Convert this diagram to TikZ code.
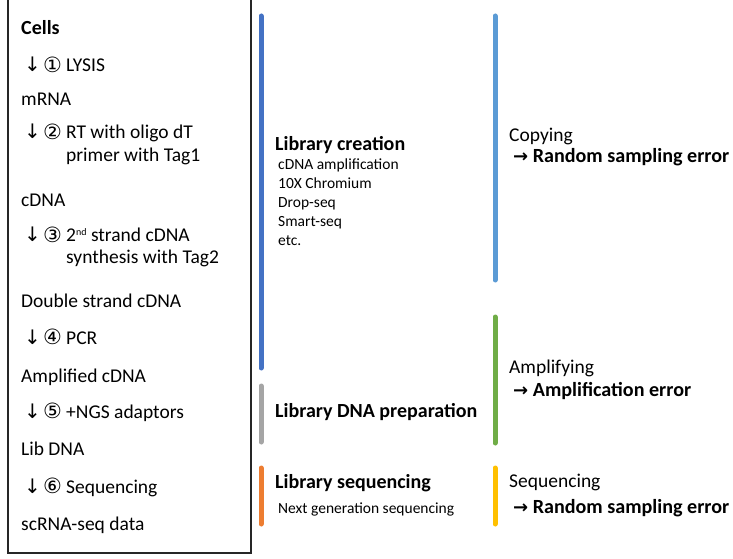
\documentclass[tikz,border=0pt]{standalone}
\usepackage{fontspec}
\setmainfont{Carlito}
\newfontfamily\symfont{DejaVu Sans}
\definecolor{barblue}{HTML}{4472C4}
\definecolor{barlightblue}{HTML}{5B9BD5}
\definecolor{bargray}{HTML}{A5A5A5}
\definecolor{barorange}{HTML}{ED7D31}
\definecolor{bargreen}{HTML}{70AD47}
\definecolor{baryellow}{HTML}{FFC000}
% down arrow and circled step number in front of a step label
\newcommand{\stepmark}[1]{\makebox[19bp][l]{\symfont\fontsize{20bp}{20bp}\selectfont ↓}\makebox[23bp][l]{\raisebox{-0.5bp}{\symfont\fontsize{21bp}{20bp}\selectfont #1}}}
\newcommand{\rarrow}{{\symfont\bfseries\fontsize{18bp}{18bp}\selectfont →}\ }
\newcommand{\supnd}[1]{\raisebox{6.5bp}{\fontsize{10bp}{10bp}\selectfont #1}}
\begin{document}
\begin{tikzpicture}[x=1bp,y=-1bp,
  every node/.style={inner sep=0pt, anchor=base west},
  main/.style={font=\fontsize{19.5bp}{22bp}\selectfont},
  small/.style={font=\fontsize{15.5bp}{18bp}\selectfont},
  head/.style={font=\fontsize{20bp}{22bp}\selectfont\bfseries},
  errtext/.style={font=\fontsize{20.1bp}{22bp}\selectfont\bfseries},
  bar/.style={line width=5bp, line cap=round}]
\useasboundingbox (0,0) rectangle (733,559);

% workflow box
\draw[line width=1.1bp, black!85] (8,-3) rectangle (251,553);

% workflow steps
\node[head] (cells) at (21,35) {Cells};
\node[main] (s1) at (24,72) {\stepmark{①}LYSIS};
\node[main] (mrna) at (21,106) {mRNA};
\node[main] (s2) at (24,139) {\stepmark{②}RT with oligo dT};
\node[main] (s2b) at (66,162) {primer with Tag1};
\node[main] (cdna) at (21,207) {cDNA};
\node[main] (s3) at (24,242) {\stepmark{③}2\supnd{nd} strand cDNA};
\node[main] (s3b) at (66,264) {synthesis with Tag2};
\node[main] (dscdna) at (21,307) {Double strand cDNA};
\node[main] (s4) at (24,344) {\stepmark{④}PCR};
\node[main] (ampcdna) at (21,382) {Amplified cDNA};
\node[main] (s5) at (24,418) {\stepmark{⑤}+NGS adaptors};
\node[main] (libdna) at (21,455) {Lib DNA};
\node[main] (s6) at (24,493) {\stepmark{⑥}Sequencing};
\node[main] (data) at (21,530) {scRNA-seq data};

% stage bars
\draw[bar, barblue] (261,16) -- (261,368);
\draw[bar, bargray] (261,386) -- (261,442);
\draw[bar, barorange] (261,468) -- (261,524);
\draw[bar, barlightblue] (495,16) -- (495,280);
\draw[bar, bargreen] (495,317) -- (495,443);
\draw[bar, baryellow] (495,468) -- (495,524);

% stage labels
\node[head] (libcre) at (275,151) {Library creation};
\node[small] (m1) at (278,170) {cDNA amplification};
\node[small] (m2) at (278,189) {10X Chromium};
\node[small] (m3) at (278,208) {Drop-seq};
\node[small] (m4) at (278,227) {Smart-seq};
\node[small] (m5) at (278,246) {etc.};
\node[head] (libprep) at (275,417) {Library DNA preparation};
\node[head] (libseq) at (275,488) {Library sequencing};
\node[small] (ngs) at (278,513) {Next generation sequencing};

% error sources
\node[main] (copy) at (509,142) {Copying};
\node[errtext] (copyerr) at (513,163) {\rarrow Random sampling error};
\node[main] (amp) at (509,373) {Amplifying};
\node[errtext] (amperr) at (513,396) {\rarrow Amplification error};
\node[main] (seq) at (509,487) {Sequencing};
\node[errtext] (seqerr) at (513,513) {\rarrow Random sampling error};
\end{tikzpicture}
\end{document}
